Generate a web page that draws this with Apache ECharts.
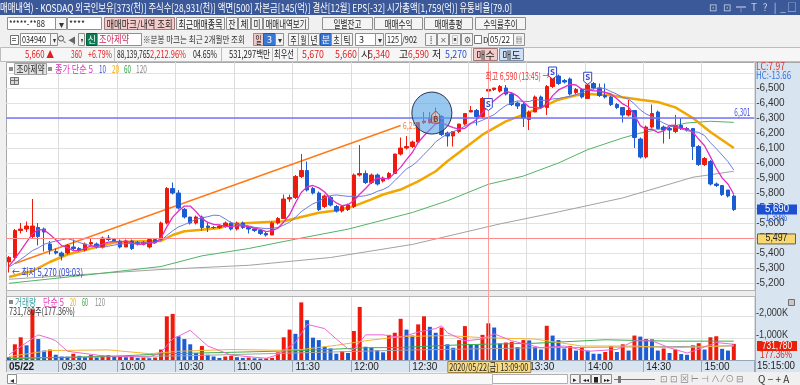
<!DOCTYPE html>
<html><head><meta charset="utf-8">
<script src="https://cdn.jsdelivr.net/npm/echarts@6/dist/echarts.min.js"></script>
<style>html,body{margin:0;padding:0;background:#f0f0f0;overflow:hidden}#c{width:800px;height:385px}</style>
</head><body><div id="c"></div>
<script>
// ---------------- DATA ----------------
const categories = ["09:03","09:06","09:09","09:12","09:15","09:18","09:21","09:24","09:27","09:30","09:33","09:36","09:39","09:42","09:45","09:48","09:51","09:54","09:57",
"10:00","10:03","10:06","10:09","10:12","10:15","10:18","10:21","10:24","10:27","10:30","10:33","10:36","10:39","10:42","10:45","10:48","10:51","10:54","10:57",
"11:00","11:03","11:06","11:09","11:12","11:15","11:18","11:21","11:24","11:27","11:30","11:33","11:36","11:39","11:42","11:45","11:48","11:51","11:54","11:57",
"12:00","12:03","12:06","12:09","12:12","12:15","12:18","12:21","12:24","12:27","12:30","12:33","12:36","12:39","12:42","12:45","12:48","12:51","12:54","12:57",
"13:00","13:03","13:06","13:09","13:12","13:15","13:18","13:21","13:24","13:27","13:30","13:33","13:36","13:39","13:42","13:45","13:48","13:51","13:54","13:57",
"14:00","14:03","14:06","14:09","14:12","14:15","14:18","14:21","14:24","14:27","14:30","14:33","14:36","14:39","14:42","14:45","14:48","14:51","14:54","14:57",
"15:00","15:03","15:06","15:09","15:12","15:15"];

const opens = [5340,5370,5550,5560,5510,5570,5560,5460,5410,5400,
5400,5440,5430,5420,5460,5460,5440,5500,5490,5480,
5440,5480,5470,5460,5440,5490,5490,5600,5830,5800,
5690,5640,5600,5640,5580,5570,5570,5580,5600,5560,
5600,5570,5560,5550,5530,5520,5600,5630,5760,5770,
5910,5950,5830,5800,5710,5770,5710,5680,5690,5710,
5920,5930,5870,5920,5880,5900,5930,6060,6100,6110,
6140,6270,6270,6290,6310,6200,6180,6210,6260,6340,
6350,6310,6480,6490,6480,6500,6460,6400,6390,6290,
6340,6440,6370,6510,6580,6550,6560,6470,6490,6430,
6530,6500,6450,6440,6390,6370,6320,6350,6160,6040,
6240,6340,6240,6230,6210,6250,6230,6230,6110,5990,
6010,5860,5850,5820,5780];
const highs = [5380,5560,5600,5610,5760,5600,5570,5480,5430,5410,
5460,5490,5440,5470,5500,5470,5510,5520,5500,5490,
5490,5490,5480,5480,5500,5500,5610,5840,5870,5820,
5700,5640,5650,5650,5600,5580,5590,5610,5610,5610,
5610,5580,5570,5560,5540,5610,5640,5790,5790,5920,
6060,6010,5840,5810,5790,5780,5720,5710,5730,5930,
6120,5950,5930,5930,5910,5940,6060,6170,6180,6150,
6270,6340,6340,6370,6320,6210,6210,6260,6330,6380,
6360,6440,6510,6500,6520,6520,6470,6410,6400,6350,
6450,6450,6520,6580,6590,6560,6570,6500,6500,6530,
6540,6530,6530,6450,6400,6370,6420,6350,6170,6250,
6390,6350,6250,6240,6320,6300,6240,6230,6120,6040,
6020,5870,5850,5820,5790];
const lows = [5270,5350,5530,5540,5500,5450,5410,5390,5390,5350,
5390,5420,5410,5410,5450,5430,5430,5480,5480,5430,
5440,5420,5450,5450,5430,5460,5480,5590,5790,5690,
5630,5590,5590,5550,5540,5560,5560,5570,5550,5550,
5560,5530,5540,5520,5510,5520,5590,5630,5740,5760,
5900,5810,5790,5680,5700,5710,5670,5670,5680,5700,
5910,5860,5860,5850,5870,5890,5930,6050,6090,6100,
6140,6260,6260,6280,6180,6110,6110,6200,6250,6340,
6250,6300,6430,6480,6470,6450,6380,6360,6240,6220,
6340,6360,6320,6500,6520,6530,6450,6460,6430,6430,
6490,6440,6430,6380,6360,6270,6310,6100,6030,6030,
6230,6230,6130,6160,6200,6220,6210,6020,5980,5980,
5850,5840,5780,5770,5680];
const closes = [5370,5550,5560,5580,5580,5510,5540,5420,5400,5380,
5450,5430,5420,5460,5470,5440,5500,5490,5480,5440,
5480,5430,5460,5470,5490,5470,5600,5830,5800,5700,
5640,5600,5640,5570,5570,5570,5580,5600,5560,5600,
5570,5560,5550,5530,5520,5600,5630,5760,5770,5910,
5950,5820,5800,5690,5780,5720,5680,5710,5720,5920,
5930,5870,5920,5860,5900,5930,6060,6100,6110,6140,
6270,6280,6300,6300,6190,6180,6210,6260,6330,6350,
6310,6430,6490,6500,6510,6460,6390,6380,6300,6340,
6440,6370,6510,6580,6530,6540,6460,6490,6440,6520,
6500,6450,6440,6390,6370,6320,6350,6170,6040,6240,
6330,6230,6220,6220,6250,6230,6220,6110,5990,6030,
5860,5850,5790,5780,5690];
// volume, thousands of shares
const volumes = [127,714,1032,667,2302,952,429,476,238,159,
150,286,190,127,222,111,206,222,159,190,
127,143,95,111,79,111,476,1984,2095,1079,
952,714,317,635,238,159,95,159,190,127,
95,111,79,63,79,95,349,1032,1381,1190,
2619,1810,1016,905,603,524,286,397,317,1317,
2413,603,556,444,349,1143,1238,1873,1381,1111,
1619,1984,1508,1238,1476,714,556,905,1540,714,
700,1143,1667,1476,746,794,825,587,905,890,
587,476,1556,1111,905,524,635,429,587,429,
286,280,365,635,365,714,429,1111,1063,952,
940,429,524,317,476,270,238,667,762,476,
1032,1079,508,429,732];
const volTicks = [1000, 2000];
// price moving averages
const ma5 = [5313,5363,5416,5472,5527,5556,5554,5524,5488,5449,
5437,5416,5417,5430,5447,5445,5459,5473,5477,5472,
5481,5466,5460,5458,5469,5466,5500,5574,5639,5680,
5713,5713,5676,5630,5604,5591,5587,5578,5576,5582,
5581,5576,5565,5558,5542,5549,5565,5607,5655,5734,
5803,5841,5850,5834,5807,5763,5734,5715,5722,5750,
5792,5830,5872,5900,5896,5896,5934,5971,6022,6070,
6137,6182,6222,6261,6269,6251,6236,6226,6231,6263,
6290,6335,6382,6416,6448,6477,6468,6446,6406,6373,
6371,6366,6393,6449,6487,6506,6524,6520,6492,6489,
6481,6480,6470,6460,6429,6394,6373,6319,6249,6223,
6226,6203,6214,6250,6252,6230,6228,6206,6158,6115,
6041,5965,5901,5860,5792];
const ma10 = [5306,5331,5358,5386,5416,5434,5458,5470,5480,5488,
5496,5485,5470,5459,5448,5441,5437,5445,5453,5459,
5463,5462,5466,5467,5470,5473,5483,5517,5548,5574,
5589,5606,5625,5634,5642,5652,5650,5627,5603,5593,
5586,5581,5571,5567,5562,5565,5570,5586,5606,5638,
5676,5703,5728,5744,5770,5783,5787,5782,5778,5778,
5777,5782,5793,5811,5823,5844,5882,5921,5961,5983,
6016,6058,6096,6141,6169,6194,6209,6224,6246,6266,
6270,6285,6304,6323,6355,6383,6401,6414,6411,6410,
6424,6417,6419,6427,6430,6438,6445,6456,6470,6488,
6493,6502,6495,6476,6459,6437,6426,6394,6354,6326,
6310,6288,6266,6249,6237,6228,6215,6210,6204,6183,
6135,6096,6053,6009,5953];
// [bar index, value] readings
const ma20 = [[0,5240],[4,5280],[7,5340],[10,5390],[13,5420],[16,5450],[18,5470],[21,5477],[26,5480],[28,5520],[30,5545],[33,5555],[36,5567],[38,5590],[41,5600],[47,5612],[53,5668],[56,5683],[59,5712],[62,5757],[64,5790],[67,5823],[70,5878],[73,5945],[75,6012],[78,6100],[81,6189],[85,6278],[88,6322],[91,6371],[94,6422],[97,6451],[99,6460],[103,6451],[105,6438],[108,6422],[111,6407],[114,6371],[117,6300],[120,6207],[123,6127],[124,6100]];
const ma60 = [[0,5198],[13,5252],[26,5310],[33,5381],[41,5430],[49,5492],[58,5559],[69,5670],[75,5748],[82,5858],[88,5913],[94,6000],[99,6089],[105,6167],[108,6200],[111,6223],[116,6267],[120,6278],[124,6271]];
const ma120 = [[0,5225],[26,5290],[41,5318],[55,5370],[69,5457],[84,5594],[94,5674],[105,5767],[117,5905],[124,5945]];
const vma5 = [[0,238],[3,794],[5,1143],[7,984],[8,873],[10,397],[16,190],[24,127],[26,349],[28,952],[31,1349],[34,635],[38,222],[44,79],[46,238],[49,794],[51,1619],[54,1428],[56,952],[58,508],[59,476],[61,1143],[64,1143],[67,1032],[70,1270],[73,1428],[74,1555],[75,1238],[78,873],[81,952],[83,1190],[86,873],[91,555],[95,635],[99,397],[104,476],[107,873],[110,873],[113,555],[116,317],[117,397],[121,794],[124,714]];
const vma20 = [[0,159],[7,429],[17,460],[24,286],[29,397],[38,476],[46,444],[50,476],[56,667],[61,873],[67,1063],[75,1111],[81,1016],[90,952],[98,635],[107,635],[113,555],[118,587],[124,667]];
const vma60 = [[0,63],[17,159],[27,286],[38,349],[50,429],[61,555],[67,571],[78,698],[90,762],[102,920],[113,857],[124,857]];
const vma120 = [[0,95],[30,190],[67,444],[90,555],[124,635]];
// annotations (data coordinates)
const trendLine = [[1,5330],[67,6250]];
const blueLevel = 6301, redLevel = 5497;
const crossIndex = 82;
const highMark = [94, 6590], lowMark = [0, 5270];
const sMarks = [[82,6390],[93,6600],[99,6565]];
const bMark = [73, 6300];
const circleMark = [72, 6333];

// ---------------- CHART ----------------
const KR = "'Noto Sans CJK KR','Noto Sans',sans-serif";
const cv = document.createElement('canvas').getContext('2d');
function hasFont(f){ cv.font='20px monospace'; const a=cv.measureText('6,500 abcdefgh').width; cv.font='20px "'+f+'", monospace'; return cv.measureText('6,500 abcdefgh').width!==a; }
const NUM = hasFont('Liberation Sans Narrow') ? "'Liberation Sans Narrow'" : "'Liberation Sans'";
const GL = 6.1, NB = 128, BW = 5.845, GW = NB*BW;
const isTick = (i, v) => typeof v === 'string' && (v.slice(3) === '00' || v.slice(3) === '30');
const RED = '#ee1a0c', BLUE = '#1c5cd2';
const fmt = v => v.toLocaleString('en-US');

const volData = volumes.map((v, i) => ({value: v, itemStyle: {color: (i > 0 && v > volumes[i-1]) ? RED : BLUE}}));
const chart = echarts.init(document.getElementById('c'), null, {renderer: 'canvas', width: 800, height: 385});
const lineS = (name, data, color, width, xi, yi, z) => ({name, type:'line', xAxisIndex:xi, yAxisIndex:yi, data, symbol:'none', showSymbol:false, silent:true, lineStyle:{color, width}, z: z||2, animation:false});

chart.setOption({
  backgroundColor: '#f0f0f0',
  animation: false,
  grid: [
    {left: GL, width: GW, top: 58, height: 240},
    {left: GL, width: GW, top: 294, height: 66},
    {left: GL, width: GW, top: 62, height: 298}
  ],
  xAxis: [
    {type:'category', gridIndex:0, data:categories, max:NB-1, axisLine:{show:false}, axisTick:{show:false}, axisLabel:{show:false}, splitLine:{show:false}},
    {type:'category', gridIndex:1, data:categories, max:NB-1, axisLine:{show:true, lineStyle:{color:'#9aa6b4'}},
      axisTick:{show:true, interval: isTick, length: 12, lineStyle:{color:'#9aa6b4'}},
      axisLabel:{interval: (i, v) => i === 0 || isTick(i, v), align:'left', margin:2, fontSize:10, color:'#222', fontFamily: NUM,
        formatter: (v, i) => i === 0 ? '{b|05/22}' : v, rich:{b:{fontWeight:'bold', fontSize:10, fontFamily: NUM, color:'#222'}}},
      splitLine:{show:false}},
    {type:'category', gridIndex:2, data:categories, max:NB-1, axisLine:{show:false}, axisTick:{show:false}, axisLabel:{show:false},
      splitLine:{show:true, interval: isTick, lineStyle:{color:'#dcdcdc', width:1}}}
  ],
  yAxis: [
    {type:'value', gridIndex:0, position:'right', min:5100, max:6700, interval:100, axisLine:{show:false}, axisTick:{show:false},
      axisLabel:{margin:2, fontSize:10, color:'#333', fontFamily: NUM, formatter: v => (v < 5200 || v > 6500) ? '' : '-' + fmt(v)},
      splitLine:{show:true, showMinLine:false, showMaxLine:false, lineStyle:{color:'#e2e2e2'}}},
    {type:'value', gridIndex:1, position:'right', min:0, max:3000, interval:1000, axisLine:{show:false}, axisTick:{show:false},
      axisLabel:{show:false},
      splitLine:{show:true, showMinLine:false, showMaxLine:false, lineStyle:{color:'#e2e2e2'}}},
    {type:'value', gridIndex:2, show:false}
  ],
  series: [
    lineS('trend', trendLine, '#ff7a18', 1.5, 0, 0, 1),
    lineS('MA120', ma120, '#a2a2a2', 1, 0, 0, 2),
    lineS('MA60', ma60, '#52b466', 1, 0, 0, 2),
    lineS('MA20', ma20, '#f2a600', 2.5, 0, 0, 2),
    {name:'candle', type:'candlestick', xAxisIndex:0, yAxisIndex:0, barWidth:4, silent:true, z:3,
      data: categories.map((c, i) => [opens[i], closes[i], lows[i], highs[i]]),
      itemStyle:{color:RED, color0:BLUE, borderColor:RED, borderColor0:BLUE, borderWidth:1},
      markLine:{symbol:['none','none'], silent:true, animation:false, label:{show:false},
        data:[
          {yAxis: blueLevel, lineStyle:{color:'#7474ff', width:1.5, type:'solid'}},
          {yAxis: redLevel, lineStyle:{color:'#ff8a8a', width:1, type:'solid'}},
          {xAxis: categories[crossIndex], lineStyle:{color:'#ff9c9c', width:1, type:'solid'}}
        ]}},
    lineS('MA10', ma10, '#6c7cdc', 1, 0, 0, 4),
    lineS('MA5', ma5, '#e22cc4', 1.3, 0, 0, 4),
    {name:'volume', type:'bar', xAxisIndex:1, yAxisIndex:1, data: volData, barWidth:4, silent:true, z:3,
      markLine:{symbol:['none','none'], silent:true, animation:false, label:{show:false},
        data:[{xAxis: categories[crossIndex], lineStyle:{color:'#ff9c9c', width:1, type:'solid'}}]}},
    lineS('VMA120', vma120, '#a2a2a2', 1, 1, 1, 4),
    lineS('VMA60', vma60, '#3cae50', 1, 1, 1, 4),
    lineS('VMA20', vma20, '#f4b430', 1, 1, 1, 4),
    lineS('VMA5', vma5, '#ee66d6', 1, 1, 1, 4)
  ]
});

// ---------------- GRAPHIC (chrome + annotations) ----------------
const G = [];
function fit(text, font, w){ cv.font = font; const m = cv.measureText(text).width; return m > 0 ? w / m : 1; }
function R(x,y,w,h,fill,stroke,z){ G.push({type:'rect', silent:true, z: z==null?10:z, shape:{x: stroke? x+0.5:x, y: stroke? y+0.5:y, width:w, height:h}, style:{fill: fill||'none', stroke: stroke||'none', lineWidth:1}}); }
function L(x1,y1,x2,y2,stroke,z,lw){ G.push({type:'line', silent:true, z: z==null?10:z, shape:{x1,y1,x2,y2}, style:{stroke, lineWidth: lw||1}}); }
function T(x,y,text,color,size,o){ o=o||{}; const font=(o.bold?'bold ':'')+size+'px '+(o.fam||KR); let sx=1;
  if(o.w){ sx=fit(text,font,o.w); if(!o.stretch) sx=Math.min(1,sx); }
  const al=o.align||'left';
  G.push({type:'text', silent:true, z:o.z==null?11:o.z, x, y, scaleX:sx, style:{text, fill:color, font, textAlign:al, textVerticalAlign:'middle', align:al, verticalAlign:'middle'}}); }
function B(x,y,w,h,label,fill,color,o){ o=o||{}; R(x,y,w,h,fill,o.stroke||'#8f8f8f',o.z); T(x+w/2+0.5,y+h/2+1,label,color||'#1a1a1a',o.size||10,{align:'center', w:o.tw||(w-4), stretch:o.stretch, bold:o.bold, z:o.z==null?11:o.z+1}); }

// backgrounds
R(6,62,749,228,'#ffffff','#a8a8a8',-5);
R(6,296,749,64,'#ffffff','#a8a8a8',-5);
R(755,62,45,311,'#d9e4f1','#a8a8a8',-5);
R(6,360,749,12,'#d9e4f1','#a8a8a8',-5);
R(6,290,749,6,'#ededed','#b4b4b4',1);
// title bar
R(0,0,800,15,'#3b5898');
T(0,7.5,'매매내역) - KOSDAQ 외국인보유[373(천)] 주식수[28,931(천)] 액면[500] 자본금[145(억)] 결산[12월] EPS[-32] 시가총액[1,759(억)] 유통비율[79.0]','#ffffff',11,{w:512, stretch:true});
[[713,'⊡'],[727,'⊡'],[741,'╤'],[754,'T'],[765,'?'],[775,'|'],[783,'_'],[792,'□']].forEach(a => T(a[0],7.5,a[1],'#c6d0e8',10,{align:'center'}));
// toolbar
R(0,15,800,47,'#f0f0f0');
// row 1
R(7,17,48,12,'#ffffff','#8f8f8f'); T(9,23.5,'*****-**88','#222',9,{w:36});
B(55,17,11,12,'▾','#f4f4f4','#333');
R(67,17,34,12,'#ffffff','#8f8f8f'); T(69,23.5,'****','#222',9,{w:16});
B(104,17,70,12,'매매마크/내역 조회','#f4cccc','#222',{stroke:'#a07878'});
B(176,17,48,12,'최근매매종목','#f4f4f4');
B(226,17,11,12,'잔','#f4f4f4'); B(238,17,12,12,'체','#f4f4f4'); B(251,17,11,12,'미','#f4f4f4');
B(263,17,45,12,'매매내역보기','#f4f4f4');
B(322,17,50,12,'일별잔고','#f4f4f4',null,{tw:28});
B(374,17,48,12,'매매수익','#f4f4f4',null,{tw:28});
B(424,17,48,12,'매매총평','#f4f4f4',null,{tw:28});
B(475,17,50,12,'수익률추이','#f4f4f4',null,{tw:34});
// row 2
R(10,35,8,9,'#ffffff','#707070'); L(12,38.5,16,38.5,'#707070'); L(12,40.5,16,40.5,'#707070');
R(20,33,30,12,'#ffffff','#8f8f8f'); T(22,39.5,'034940','#222',9,{w:24});
B(50,33,7,12,'▾','#f4f4f4','#333',{size:8});
G.push({type:'circle', silent:true, z:11, shape:{cx:61,cy:38.5,r:2.6}, style:{fill:'none', stroke:'#555', lineWidth:1}}); L(63,40.5,65.5,43,'#555');
T(68,39.5,'◀','#666',8); T(73,39.5,')','#666',8);
B(78,33,6,12,'▾','#f4f4f4','#333',{size:8});
R(86,33,11,12,'#0c7a52','#0a5a3c'); T(92,39.5,'신','#ffffff',9,{align:'center'});
R(97,33,44,12,'#ffffff','#8f8f8f'); T(99,39.5,'조아제약','#c8285a',10,{w:30});
T(143,39.5,'※분봉 마크는 최근 2개월만 조회','#333',9,{w:102});
B(253,33,10,12,'일','#f2c6c6');
R(263,33,12,12,'#3a78d8','#2a58a8'); T(269.5,39.5,'3','#ffffff',9,{align:'center'});
B(275,33,8,12,'▾','#f4f4f4','#333',{size:8});
B(288,33,10,12,'주','#f4f4f4'); B(298,33,10,12,'월','#f4f4f4'); B(308,33,11,12,'년','#f4f4f4');
R(320,33,11,12,'#3a78d8','#2a58a8'); T(326,39.5,'분','#ffffff',9,{align:'center'});
B(331,33,10,12,'초','#f4f4f4'); B(341,33,11,12,'틱','#f4f4f4');
R(355,33,20,12,'#ffffff','#8f8f8f'); T(359,39.5,'3','#222',9);
B(375,33,8,12,'▾','#f4f4f4','#333',{size:8});
R(385,33,16,12,'#ffffff','#8f8f8f'); T(387,39.5,'125','#222',9,{w:12});
T(402,39.5,'/902','#222',9,{w:15});
B(425,33,11,12,'⁞','#f4f4f4','#555'); B(437,33,11,12,'✕','#f4f4f4','#777',{size:8}); B(449,33,11,12,'▣','#f4f4f4','#555',{size:9}); B(461,33,11,12,'⚙','#f4f4f4','#555',{size:9});
R(474,35,7,8,'#ffffff','#777'); T(483,39.5,'D','#222',8);
R(488,33,25,12,'#ffffff','#8f8f8f'); T(490,39.5,'05/22','#222',9,{w:20});
B(513,33,11,12,'▦','#f4f4f4','#555',{size:8});
// row 3
R(0,47,800,14,'#f6f6f6','#bdbdbd');
[114,221,272,297,358,471].forEach(x => L(x+0.5,47,x+0.5,61,'#bdbdbd'));
T(25,54,'5,660 ▲','#e02020',10,{w:29});
T(71,54,'360','#e02020',10,{w:11});
T(88,54,'+6.79%','#e02020',10,{w:24});
T(117,54,'88,139,765','#222',10,{w:33});
T(150,54,'2,212.96%','#e02020',10,{w:36});
T(193,54,'04.65%','#222',10,{w:24});
T(229,54,'531,297백만','#222',10,{w:41});
T(274,54,'최우선','#222',10,{w:20});
T(302,54,'5,670','#e02020',10,{w:22});
T(335,54,'5,660','#e02020',10,{w:22});
T(361,54,'시','#222',10);
T(368,54,'5,340','#e02020',10,{w:22});
T(399,54,'고','#222',10);
T(408,54,'6,590','#e02020',10,{w:21});
T(432,54,'저','#222',10);
T(445,54,'5,270','#2a50d0',10,{w:22});
B(473,48,24,12,'매수','#f4cccc','#222',{stroke:'#a07878'});
B(499,48,24,12,'매도','#cfe0f6','#222',{stroke:'#7890b0'});
// price legend
R(9,67,4,4,'#8a8a8a');
B(14,63,32,11,'조아제약','#e2e2e2','#222',{stroke:'#a0a0a0'});
R(48,67,4,4,'#8a8a8a');
T(55,69,'종가 단순 5','#e030c0',10,{w:38});
T(99,69,'10','#3a55d0',10,{w:7});
T(112,69,'20','#f0a800',10,{w:7});
T(124,69,'60','#30a040',10,{w:7});
T(136,69,'120','#8a8a8a',10,{w:11});
R(10,77,8,7,'#d8d8d8','#707070'); L(10,80.5,18,80.5,'#707070'); L(14.5,77,14.5,84,'#707070');
// volume legend
R(9,300,4,4,'#8a8a8a');
T(15,302.5,'거래량','#40a0a0',10,{w:21});
T(43,302.5,'단순 5','#e040c0',10,{w:21});
T(70,302.5,'20','#f0a800',10,{w:6});
T(82,302.5,'60','#30a040',10,{w:6});
T(95,302.5,'120','#8a8a8a',10,{w:10});
T(9,311,'731,780주(177.36%)','#333',10,{w:66});
// right axis extras
T(756,66.5,'LC:7.97','#e03030',10,{w:29});
T(756,75,'HC:-13.66','#3070d8',10,{w:35});
R(788,299,6,6,'#c8c8c8','#707070');
T(757,366.5,'15:15:00','#222',10,{w:38, fam:NUM});
// bottom bar
R(0,372,800,13,'#f0f0f0');
R(16,373,476,11,'#f8f8f8','#c8c8c8');
B(7,374,9,9,'◂','#ffffff','#333',{size:8});
R(492,374,75,9,'#ffffff','#b0b0b0');
B(570,374,9,9,'▸','#f4f4f4','#222',{size:7}); B(580,374,10,9,'◂◂','#f4f4f4','#222',{size:6}); B(591,374,9,9,'■','#f4f4f4','#222',{size:7}); B(601,374,10,9,'▸▸','#f4f4f4','#222',{size:6});
L(614,379.5,655,379.5,'#777'); R(618,376,3,7,'#777');
T(660,379,'⊡ ⊡ ⊠ ⊢ ⊣ ∧ ⁄ ⊙ ⊟','#8a8a8a',9,{w:92});
T(758,379,'Q − + A','#333',10,{w:38});

// annotations anchored to data
const P = (i, v) => chart.convertToPixel({gridIndex:0}, [i, v]);
const PV = (i, v) => chart.convertToPixel({gridIndex:1}, [i, v]);
// volume axis tick labels (through the volume scale)
const vBase = PV(0, 0)[1], vTop = PV(0, volTicks[1])[1];
volTicks.forEach(t => { const y = vBase + (vTop - vBase) * t / volTicks[1];
  T(756, y - 2.5, '-' + fmt(t) + 'K', '#333', 10, {w:32, fam:NUM, z:20}); });
// trendline label
{ const p = P(trendLine[1][0], trendLine[1][1]); T(p[0]+2, p[1], '6,291', '#ff8030', 9, {w:18, z:2}); }
// blue level label
{ const p = P(NB-1, blueLevel); T(p[0]-1, p[1]-5.5, fmt(blueLevel), '#4050e0', 10, {align:'right', w:16}); }
// circle
{ const p = P(circleMark[0], circleMark[1]); G.push({type:'ellipse', silent:true, z:6, shape:{cx:p[0]+2, cy:p[1], rx:20, ry:21}, style:{fill:'rgba(88,165,230,0.62)', stroke:'#2c3550', lineWidth:1}}); }
// B marker
{ const p = P(bMark[0], bMark[1]); G.push({type:'polygon', silent:true, z:7, shape:{points:[[p[0]-4,p[1]-3],[p[0],p[1]-7],[p[0]+4,p[1]-3],[p[0]+4,p[1]+5],[p[0]-4,p[1]+5]]}, style:{fill:'rgba(255,220,200,0.35)', stroke:'#9a4a3a', lineWidth:1}}); T(p[0], p[1]+1, 'B', '#8a3a2a', 8, {align:'center', bold:true, z:8}); }
// S markers
sMarks.forEach(s => { const p = P(s[0], s[1]);
  G.push({type:'polygon', silent:true, z:7, shape:{points:[[p[0]-4,p[1]-6],[p[0]+4,p[1]-6],[p[0]+4,p[1]+3],[p[0],p[1]+6],[p[0]-4,p[1]+3]]}, style:{fill:'#ffffff', stroke:'#3444cc', lineWidth:1}});
  T(p[0], p[1]-1, 'S', '#3444cc', 8, {align:'center', bold:true, z:8}); });
// high / low texts
{ const p = P(highMark[0], highMark[1]); T(p[0]-9, p[1]+1.5, '최고 ' + fmt(highMark[1]) + ' (13:45) →', '#f03030', 10, {align:'right', w:64, z:8}); }
{ const p = P(lowMark[0], lowMark[1]); T(p[0]+3, p[1], '← 최저 ' + fmt(lowMark[1]) + ' (09:03)', '#2a40d0', 10, {w:71, z:8}); }
// current price box
{ const last = closes[closes.length-1]; const p = P(closes.length-1, last);
  R(757, p[1]-5, 40, 10, '#1c50d0'); T(777, p[1], fmt(last), '#ffffff', 10, {align:'center', w:24, fam:NUM});
  T(763, p[1]+9, '-1.39%', '#2c60e0', 10, {w:24, fam:NUM}); }
// red level box
{ const p = P(0, redLevel); R(757, p[1]-5, 38, 10, '#f8d870', '#6a6040'); T(776.5, p[1], fmt(redLevel), '#222', 10, {align:'center', w:22, fam:NUM}); }
// volume box
{ const lv = volumes[volumes.length-1]; const p = PV(volumes.length-1, lv);
  R(757, p[1]-3, 40, 10, '#e8200a'); T(777, p[1]+2, '731,780', '#ffffff', 10, {align:'center', w:30, fam:NUM});
  T(760, p[1]+11, '177.36%', '#e8200a', 10, {w:32, fam:NUM}); }
// crosshair time box
{ const p = P(crossIndex, 6000); R(p[0]-41, 361, 83, 11, '#f6dc88', '#9c8440', 12); T(p[0]+0.5, 367, '2020/05/22(금) 13:09:00', '#222', 10, {align:'center', w:79, z:13}); }

chart.setOption({graphic: {elements: G}});
</script></body></html>
